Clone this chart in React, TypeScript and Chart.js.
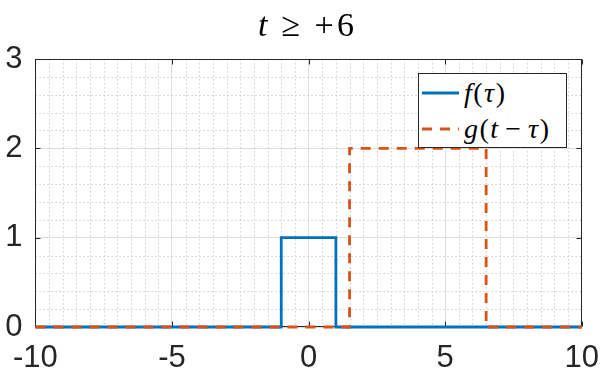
import { useEffect, useRef } from 'react';
import { Chart, registerables } from 'chart.js';

Chart.register(...registerables);

// f(τ): unit-height pulse on [-1, 1]
const fTau = [-10, -1, -1, 1, 1, 10];
const fVal = [0, 0, 1, 1, 0, 0];
// g(t − τ) at t = 6: height-2 pulse on [1.5, 6.5]
const gTau = [-10, 1.5, 1.5, 6.5, 6.5, 10];
const gVal = [0, 0, 2, 2, 0, 0];

const xTicks = [-10, -5, 0, 5, 10];
const yTicks = [0, 1, 2, 3];
const X_MINOR_STEP = 0.5;
const Y_MINOR_STEP = 0.2;

const BLUE = '#0072BD';
const ORANGE = '#D95319';
const AXIS = '#262626';
const DASH = [10, 8];

const W = 612;
const H = 374;

// Minor dotted grid, axes box and inward tick marks (drawn beneath the data).
const axesBox = {
  id: 'axesBox',
  beforeDatasetsDraw(chart: any) {
    const { ctx, chartArea: a } = chart;
    const xs = chart.scales.x;
    const ys = chart.scales.y;
    const al = (p: number) => Math.round(p) + 0.5;
    ctx.save();
    ctx.lineWidth = 1;

    ctx.strokeStyle = '#cfcfcf';
    ctx.setLineDash([1.5, 2.5]);
    const nx = Math.round((xs.max - xs.min) / X_MINOR_STEP);
    for (let i = 1; i < nx; i++) {
      const v = xs.min + i * X_MINOR_STEP;
      if (xTicks.some((t) => Math.abs(t - v) < 1e-9)) continue;
      const px = al(xs.getPixelForValue(v));
      ctx.beginPath();
      ctx.moveTo(px, a.top);
      ctx.lineTo(px, a.bottom);
      ctx.stroke();
    }
    const ny = Math.round((ys.max - ys.min) / Y_MINOR_STEP);
    for (let i = 1; i < ny; i++) {
      const v = ys.min + i * Y_MINOR_STEP;
      if (yTicks.some((t) => Math.abs(t - v) < 1e-9)) continue;
      const py = al(ys.getPixelForValue(v));
      ctx.beginPath();
      ctx.moveTo(a.left, py);
      ctx.lineTo(a.right, py);
      ctx.stroke();
    }
    ctx.setLineDash([]);

    ctx.strokeStyle = AXIS;
    const l = al(a.left);
    const r = al(a.right) - 1;
    const t = al(a.top);
    const b = al(a.bottom) - 1;
    ctx.strokeRect(l, t, r - l, b - t);

    const tl = 5;
    ctx.beginPath();
    for (const v of xTicks) {
      const px = al(xs.getPixelForValue(v));
      ctx.moveTo(px, b);
      ctx.lineTo(px, b - tl);
      ctx.moveTo(px, t);
      ctx.lineTo(px, t + tl);
    }
    for (const v of yTicks) {
      const py = al(ys.getPixelForValue(v));
      ctx.moveTo(l, py);
      ctx.lineTo(l + tl, py);
      ctx.moveTo(r, py);
      ctx.lineTo(r - tl, py);
    }
    ctx.stroke();
    ctx.restore();
  },
};

const tickFont = { family: '"Liberation Sans", Arial, sans-serif', size: 31 };

function LegendSample({ color, dash }: { color: string; dash?: number[] }) {
  return (
    <svg width={37} height={4} style={{ display: 'block', flex: 'none' }}>
      <line
        x1={0}
        y1={2}
        x2={37}
        y2={2}
        stroke={color}
        strokeWidth={3}
        strokeDasharray={dash ? dash.join(' ') : undefined}
      />
    </svg>
  );
}

const serif = '"Liberation Serif", "Times New Roman", serif';

export default function App() {
  const canvasRef = useRef<HTMLCanvasElement | null>(null);

  useEffect(() => {
    const canvas = canvasRef.current;
    if (!canvas) return;
    const chart = new Chart(canvas, {
      type: 'line',
      data: {
        datasets: [
          {
            label: 'f(τ)',
            data: fTau.map((x, i) => ({ x, y: fVal[i] })),
            borderColor: BLUE,
            backgroundColor: BLUE,
            borderWidth: 2.8,
            pointRadius: 0,
            tension: 0,
            fill: false,
            clip: false as any,
            order: 1,
          },
          {
            label: 'g(t − τ)',
            data: gTau.map((x, i) => ({ x, y: gVal[i] })),
            borderColor: ORANGE,
            backgroundColor: ORANGE,
            borderWidth: 2.8,
            borderDash: DASH,
            pointRadius: 0,
            tension: 0,
            fill: false,
            clip: false as any,
            order: 0,
          },
        ],
      },
      options: {
        animation: false,
        responsive: false,
        devicePixelRatio: 1,
        events: [],
        layout: { padding: { top: 59, right: 29, left: 0, bottom: 0 } },
        plugins: {
          legend: { display: false },
          title: { display: false },
          tooltip: { enabled: false },
        },
        scales: {
          x: {
            type: 'linear',
            min: -10,
            max: 10,
            afterBuildTicks: (scale: any) => {
              scale.ticks = xTicks.map((value) => ({ value }));
            },
            afterFit: (scale: any) => {
              scale.height = 47;
            },
            grid: { color: '#dedede', lineWidth: 1, drawTicks: false },
            border: { display: false },
            ticks: {
              autoSkip: false,
              maxRotation: 0,
              padding: 13,
              color: AXIS,
              font: tickFont,
              callback: (v: any) => String(v),
            },
          },
          y: {
            type: 'linear',
            min: 0,
            max: 3,
            afterBuildTicks: (scale: any) => {
              scale.ticks = yTicks.map((value) => ({ value }));
            },
            afterFit: (scale: any) => {
              scale.width = 33;
            },
            grid: { color: '#dedede', lineWidth: 1, drawTicks: false },
            border: { display: false },
            ticks: {
              autoSkip: false,
              padding: 13,
              color: AXIS,
              font: tickFont,
              callback: (v: any) => String(v),
            },
          },
        },
      } as any,
      plugins: [axesBox],
    });
    return () => chart.destroy();
  }, []);

  const rowStyle: any = {
    position: 'absolute',
    left: 3,
    height: 30,
    display: 'flex',
    alignItems: 'center',
    whiteSpace: 'nowrap',
    lineHeight: '30px',
  };

  return (
    <div
      style={{
        position: 'fixed',
        left: 0,
        top: 0,
        width: W,
        height: H,
        background: '#fff',
        overflow: 'hidden',
      }}
    >
      <canvas ref={canvasRef} width={W} height={H} style={{ display: 'block' }} />
      <div
        style={{
          position: 'absolute',
          left: 0,
          top: 5,
          width: W,
          textAlign: 'center',
          fontFamily: serif,
          fontSize: 34,
          lineHeight: '40px',
          color: '#000',
          whiteSpace: 'nowrap',
        }}
      >
        <i>t</i>
        <span style={{ margin: '0 0.42em' }}>≥</span>
        <span style={{ marginRight: '0.1em' }}>+</span>6
      </div>
      <div
        style={{
          position: 'absolute',
          left: 418,
          top: 73,
          width: 149,
          height: 75,
          boxSizing: 'border-box',
          border: `1px solid ${AXIS}`,
          background: '#fff',
          fontFamily: serif,
          fontSize: 28,
          color: '#000',
        }}
      >
        <div style={{ ...rowStyle, top: 4 }}>
          <LegendSample color={BLUE} />
          <span style={{ marginLeft: 5, letterSpacing: '1.5px' }}>
            <i>f</i>(<i>τ</i>)
          </span>
        </div>
        <div style={{ ...rowStyle, top: 40 }}>
          <LegendSample color={ORANGE} dash={DASH} />
          <span style={{ marginLeft: 5, letterSpacing: '1.5px' }}>
            <i>g</i>(<i>t</i>
            <span style={{ margin: '0 0.2em' }}>−</span>
            <i>τ</i>)
          </span>
        </div>
      </div>
    </div>
  );
}
